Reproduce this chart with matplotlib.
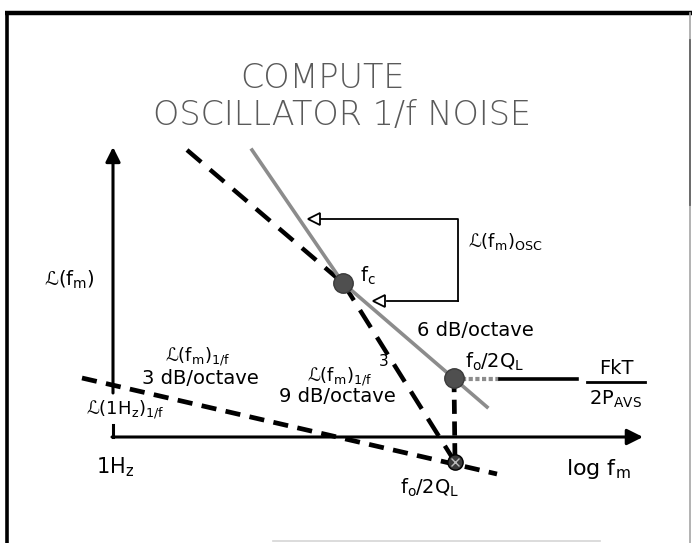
import matplotlib
matplotlib.use("Agg")
import matplotlib.pyplot as plt

plt.rcParams['font.family'] = ['DejaVu Sans']
plt.rcParams['mathtext.fontset'] = 'dejavusans'
plt.rcParams['mathtext.default'] = 'regular'

# drawing units: x to the right, y downward (same size as the sheet)
W, H = 692, 543

# axes of the sketch
origin = (113, 437)
y_axis_top = 147
x_axis_end = 643
y_axis_gap = (393, 425)

# 1/f flicker asymptote, 3 dB/octave
flicker_x = [82, 497]
flicker_y = [378, 474]

# 6 dB/octave line: dashed above fc, grey (oscillator) below fc
slope6_x = [187, 343, 487]
slope6_y = [150, 283, 407]

# 9 dB/octave line: grey (oscillator) above fc, dashed below fc
slope9_x = [252, 343, 455]
slope9_y = [150, 283, 462]

# corner points
fc = (343, 283)
f0_top = (454, 378)
f0_bottom = (455, 462)

# noise floor FkT/2Pavs
floor_grey_x = [462, 500]
floor_black_x = [500, 577]
floor_y = 379

# bracket pointing at the oscillator curve
bracket_x = [318, 458, 458, 387]
bracket_y = [219, 219, 301, 301]
bracket_tips = [(309, 219), (374, 301)]

fig = plt.figure(figsize=(W / 100, H / 100), dpi=100)
ax = fig.add_axes([0, 0, 1, 1])
ax.set_xlim(0, W)
ax.set_ylim(H, 0)
ax.axis('off')

# frame
ax.plot([5, W], [13, 13], color='black', lw=3.2, solid_capstyle='butt')
ax.plot([7, 7], [11, H], color='black', lw=2.6, solid_capstyle='butt')
ax.plot([690, 690], [13, H], color='#a5a5a5', lw=1.2)
ax.plot([690, 690], [40, 205], color='#666666', lw=1.3)
ax.plot([273, 600], [541, 541], color='#d5d5d5', lw=1.2)

# axes with arrows
ax.annotate('', xy=(origin[0], y_axis_top), xytext=(origin[0], y_axis_gap[0]),
            arrowprops=dict(arrowstyle='-|>', lw=2.2, color='black',
                            mutation_scale=22, shrinkA=0, shrinkB=0))
ax.plot([origin[0], origin[0]], [y_axis_gap[1], origin[1]], color='black', lw=2.2)
ax.annotate('', xy=(x_axis_end, origin[1]), xytext=(origin[0] - 1, origin[1]),
            arrowprops=dict(arrowstyle='-|>', lw=2.2, color='black',
                            mutation_scale=24, shrinkA=0, shrinkB=0))

# asymptotes
ax.plot(flicker_x, flicker_y, color='black', lw=3.4, ls=(0, (3.2, 2.0)))
ax.plot(slope6_x[:2], slope6_y[:2], color='black', lw=3.2, ls=(0, (4.2, 2.6)))
ax.plot(slope9_x[1:], slope9_y[1:], color='black', lw=3.2, ls=(0, (4.6, 2.6)))

# oscillator noise curve (grey)
ax.plot(slope9_x[:2], slope9_y[:2], color='#8c8c8c', lw=2.6)
ax.plot(slope6_x[1:], slope6_y[1:], color='#8c8c8c', lw=2.6)

# vertical drop from f0/2QL
ax.plot([f0_top[0], f0_bottom[0]], [f0_top[1], f0_bottom[1]], color='black',
        lw=3.4, ls=(0, (3.0, 1.6)))

# noise floor
ax.plot(floor_grey_x, [floor_y, floor_y], color='#8c8c8c', lw=3.0, ls=(0, (1, 0.6)))
ax.plot(floor_black_x, [floor_y, floor_y], color='black', lw=2.6)

# bracket with open arrowheads
ax.plot(bracket_x[:3], bracket_y[:3], color='black', lw=1.3)
ax.plot(bracket_x[2:], bracket_y[2:], color='black', lw=1.3)
for tx, ty in bracket_tips:
    ax.plot(tx + 5, ty, marker='<', ms=9, mfc='white', mec='black', mew=1.3)

# corner markers
ax.plot(*fc, marker='o', ms=14, color='#4f4f4f', mec='#3a3a3a')
ax.plot(*f0_top, marker='o', ms=14, color='#4f4f4f', mec='#3a3a3a')
ax.plot(*f0_bottom, marker='o', ms=11, color='#3a3a3a', mec='black')
ax.plot(*f0_bottom, marker='x', ms=6, color='#bbbbbb', mew=1)

# title
ax.text(322, 78, 'COMPUTE', ha='center', va='center', fontsize=24,
        color='#5a5a5a', fontweight='light')
ax.text(342, 115, 'OSCILLATOR 1/f NOISE', ha='center', va='center', fontsize=24,
        color='#5a5a5a', fontweight='light')

# labels
fs = 14
ax.text(69, 280, 'ℒ(f$_m$)', ha='center', va='center', fontsize=fs)
ax.text(198, 357, 'ℒ(f$_m$)$_{1/f}$', ha='center', va='center', fontsize=fs - 1)
ax.text(200, 378, '3 dB/octave', ha='center', va='center', fontsize=fs)
ax.text(125, 410, 'ℒ(1H$_z$)$_{1/f}$', ha='center', va='center', fontsize=fs - 1)
ax.text(115, 467, '1H$_z$', ha='center', va='center', fontsize=fs + 1)
ax.text(340, 377, 'ℒ(f$_m$)$_{1/f}$', ha='center', va='center', fontsize=fs - 1)
ax.text(384, 362, '3', ha='center', va='center', fontsize=fs - 3)
ax.text(337, 396, '9 dB/octave', ha='center', va='center', fontsize=fs)
ax.text(368, 276, 'f$_c$', ha='center', va='center', fontsize=fs)
ax.text(505, 242, 'ℒ(f$_m$)$_{OSC}$', ha='center', va='center', fontsize=fs - 1)
ax.text(475, 330, '6 dB/octave', ha='center', va='center', fontsize=fs)
ax.text(495, 362, 'f$_o$/2Q$_L$', ha='center', va='center', fontsize=fs)
ax.text(430, 488, 'f$_o$/2Q$_L$', ha='center', va='center', fontsize=fs)
ax.text(616, 369, 'FkT', ha='center', va='center', fontsize=fs)
ax.plot([587, 645], [382, 382], color='black', lw=2)
ax.text(615, 399, '2P$_{AVS}$', ha='center', va='center', fontsize=fs)
ax.text(598, 469, 'log f$_m$', ha='center', va='center', fontsize=fs + 2)

fig.savefig('out.png', dpi=100)
